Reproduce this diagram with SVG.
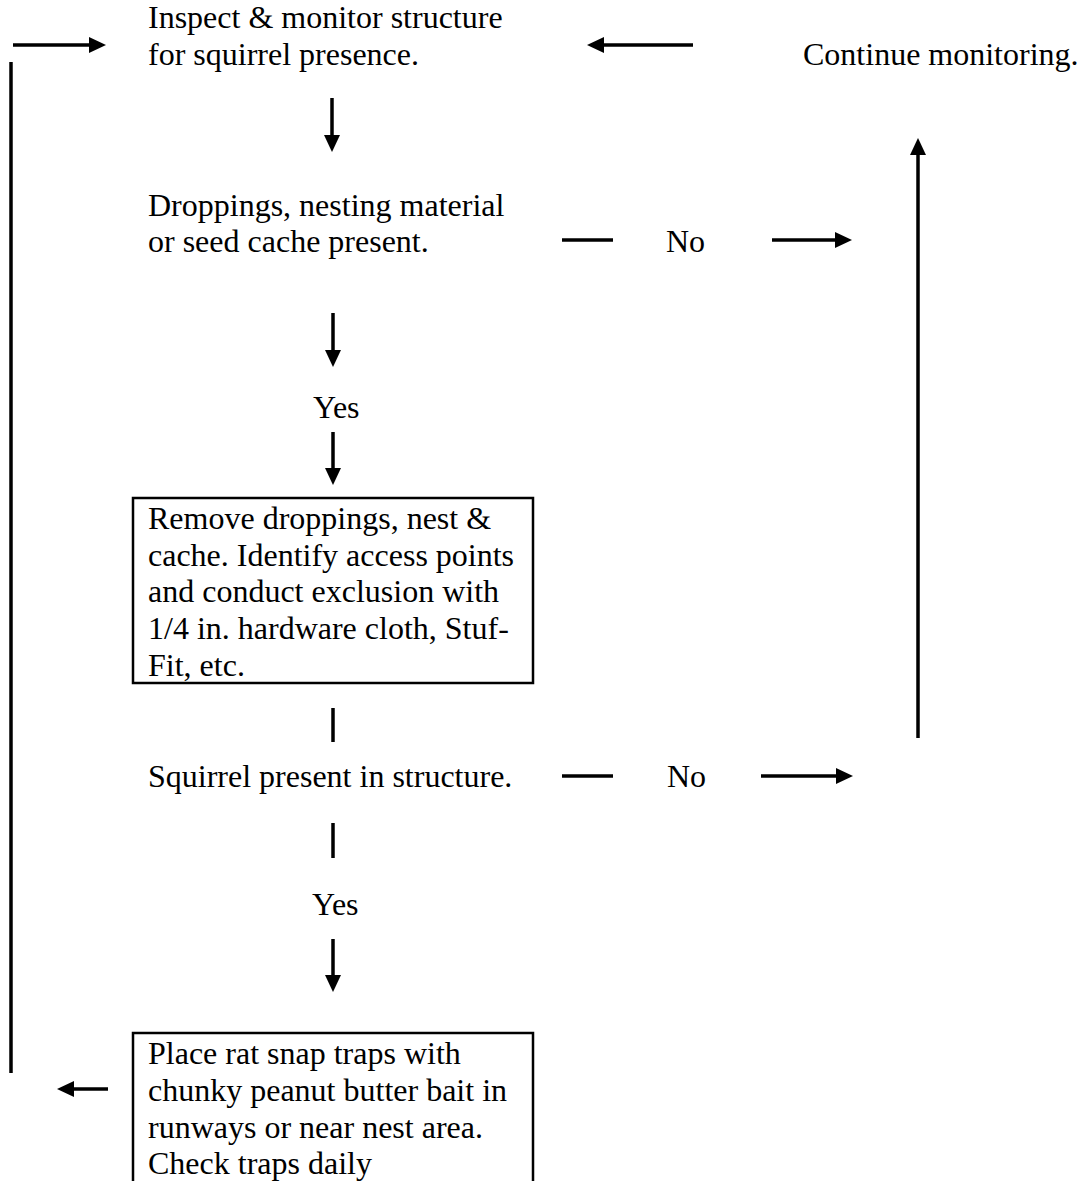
<svg xmlns="http://www.w3.org/2000/svg" width="1088" height="1181" viewBox="0 0 1088 1181">
  <style>
    text { font-family: "Liberation Serif", "Times New Roman", serif; font-size: 32px; fill: #000; }
    .ln { stroke: #000; stroke-width: 3.5; fill: none; }
    .arr { marker-end: url(#head); }
    .box { fill: #fff; stroke: #000; stroke-width: 2.5; }
  </style>
  <defs>
    <marker id="head" markerUnits="userSpaceOnUse" markerWidth="17" markerHeight="16" refX="1" refY="8" orient="auto" overflow="visible">
      <path d="M0,0 L17,8 L0,16 z" fill="#000"/>
    </marker>
  </defs>
  <rect width="1088" height="1181" fill="#fff"/>

  <g id="connectors">
    <!-- return loop on the left -->
    <line class="ln" x1="11" y1="62" x2="11" y2="1073"/>
    <line class="ln arr" x1="13" y1="45" x2="90" y2="45"/>
    <line class="ln arr" x1="108" y1="1089" x2="73" y2="1089"/>
    <!-- continue monitoring back to inspection -->
    <line class="ln arr" x1="693" y1="45" x2="603" y2="45"/>
    <!-- main column -->
    <line class="ln arr" x1="332" y1="98" x2="332" y2="136"/>
    <line class="ln arr" x1="333" y1="313" x2="333" y2="351"/>
    <line class="ln arr" x1="333" y1="432" x2="333" y2="469"/>
    <line class="ln" x1="333" y1="708" x2="333" y2="742"/>
    <line class="ln" x1="333" y1="823" x2="333" y2="858"/>
    <line class="ln arr" x1="333" y1="939" x2="333" y2="976"/>
    <!-- "No" branches -->
    <line class="ln" x1="562" y1="240" x2="613" y2="240"/>
    <line class="ln arr" x1="772" y1="240" x2="836" y2="240"/>
    <line class="ln" x1="562" y1="776" x2="613" y2="776"/>
    <line class="ln arr" x1="761" y1="776" x2="837" y2="776"/>
    <!-- up to continue monitoring -->
    <line class="ln arr" x1="918" y1="738" x2="918" y2="154"/>
  </g>

  <g id="inspect">
    <text x="148" y="28">Inspect &amp; monitor structure</text>
    <text x="148" y="64.5">for squirrel presence.</text>
  </g>

  <g id="continue">
    <text x="803" y="64.5">Continue monitoring.</text>
  </g>

  <g id="signs">
    <text x="148" y="215.5">Droppings, nesting material</text>
    <text x="148" y="252">or seed cache present.</text>
  </g>

  <g id="no1">
    <text x="666" y="252">No</text>
  </g>

  <g id="yes1">
    <text x="313" y="418">Yes</text>
  </g>

  <g id="exclusion">
    <rect class="box" x="133" y="498" width="400" height="185"/>
    <text x="148" y="529">Remove droppings, nest &amp;</text>
    <text x="148" y="566">cache. Identify access points</text>
    <text x="148" y="602">and conduct exclusion with</text>
    <text x="148" y="639">1/4 in. hardware cloth, Stuf-</text>
    <text x="148" y="676">Fit, etc.</text>
  </g>

  <g id="present">
    <text x="148" y="787">Squirrel present in structure.</text>
  </g>

  <g id="no2">
    <text x="667" y="787">No</text>
  </g>

  <g id="yes2">
    <text x="312" y="915">Yes</text>
  </g>

  <g id="traps">
    <rect class="box" x="133" y="1033" width="400" height="160"/>
    <text x="148" y="1064">Place rat snap traps with</text>
    <text x="148" y="1101">chunky peanut butter bait in</text>
    <text x="148" y="1138">runways or near nest area.</text>
    <text x="148" y="1174">Check traps daily</text>
  </g>
</svg>
